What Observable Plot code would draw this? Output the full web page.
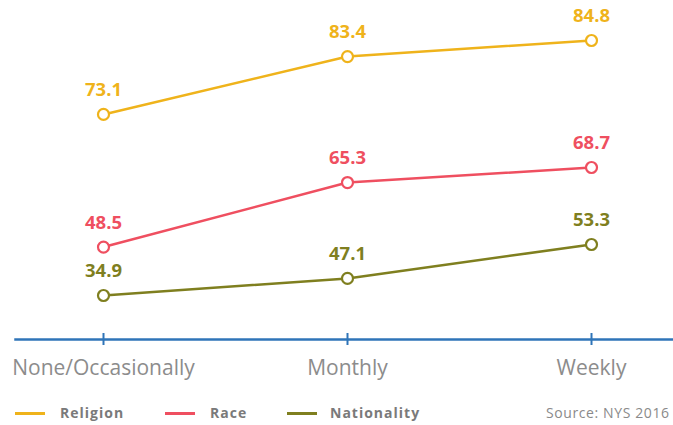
<!DOCTYPE html>
<html>
<head>
<meta charset="utf-8">
<script src="https://cdn.jsdelivr.net/npm/d3@7"></script>
<script src="https://cdn.jsdelivr.net/npm/@observablehq/plot@0.6"></script>
<style>
  html, body { margin: 0; padding: 0; background: #fff; }
  #wrap { position: relative; width: 673px; height: 425px; overflow: hidden; font-family: "Open Sans", sans-serif; }
  #legend { position: absolute; left: 0; top: 390px; width: 673px; height: 35px; }
  .sw { position: absolute; top: 22px; width: 30px; height: 3px; }
  .lt { position: absolute; top: 13px; font-size: 14px; font-weight: 700; color: #7a7a7a; letter-spacing: 1px; font-family: "Open Sans", sans-serif; }
  .src { position: absolute; top: 13px; left: 546px; font-size: 14px; color: #8a8a8a; letter-spacing: 0.6px; white-space: nowrap; }
</style>
</head>
<body>
<div id="wrap">
  <div id="chart"></div>
  <div id="legend"></div>
</div>
<script>
const categories = ["None/Occasionally", "Monthly", "Weekly"];
const seriesNames = ["Religion", "Race", "Nationality"];
const religion = [73.1, 83.4, 84.8];
const race = [48.5, 65.3, 68.7];
const nationality = [34.9, 47.1, 53.3];
const seriesColors = ["#efb31b", "#ef4f60", "#7f7f1f"];
const sourceText = "Source: NYS 2016";

const values = [religion, race, nationality];
const data = [];
seriesNames.forEach((s, i) => {
  categories.forEach((c, j) => data.push({series: s, category: c, value: values[i][j]}));
});

// The reference chart is not drawn to a linear scale; a monotone piecewise
// warp of the value axis approximates its vertical spacing.
const warp = d3.scaleLinear()
  .domain([34.9, 47.1, 48.5, 53.3, 65.3, 68.7, 73.1, 83.4, 84.8])
  .range([0, 0.067, 0.19, 0.2, 0.443, 0.502, 0.71, 0.937, 1]);

const blue = "#2f74b8";
const chart = Plot.plot({
  width: 673,
  height: 390,
  marginLeft: 15,
  marginRight: 0,
  marginTop: 20,
  marginBottom: 51,
  style: {fontFamily: "'Open Sans', sans-serif", background: "#fff"},
  x: {type: "point", domain: categories, range: [103, 591], padding: 0, label: null},
  y: {transform: v => warp(v), range: [295, 40], axis: null},
  color: {domain: seriesNames, range: seriesColors},
  marks: [
    Plot.frame({anchor: "bottom", stroke: blue, strokeWidth: 2.5}),
    Plot.axisX({tickSize: 12, dy: -6, stroke: blue, strokeWidth: 2, tickFormat: () => "", label: null}),
    Plot.axisX({tickSize: 0, tickPadding: 21, fontSize: 21, fill: "#8c8c8c", label: null}),
    Plot.line(data, {x: "category", y: "value", z: "series", stroke: "series", strokeWidth: 2.5}),
    Plot.dot(data, {x: "category", y: "value", stroke: "series", fill: "white", r: 5.5, strokeWidth: 2.2}),
    Plot.text(data, {x: "category", y: "value", text: d => d.value.toFixed(1), fill: "series", dy: -24, fontSize: 18.5, fontWeight: 700})
  ]
});
document.getElementById("chart").appendChild(chart);

const legend = document.getElementById("legend");
const swX = [15, 165, 287];
const txX = [60, 210, 330];
seriesNames.forEach((s, i) => {
  const sw = document.createElement("div");
  sw.className = "sw"; sw.style.left = swX[i] + "px"; sw.style.background = seriesColors[i];
  legend.appendChild(sw);
  const t = document.createElement("div");
  t.className = "lt"; t.style.left = txX[i] + "px"; t.textContent = s;
  legend.appendChild(t);
});
const src = document.createElement("div");
src.className = "src"; src.textContent = sourceText;
legend.appendChild(src);
</script>
</body>
</html>
